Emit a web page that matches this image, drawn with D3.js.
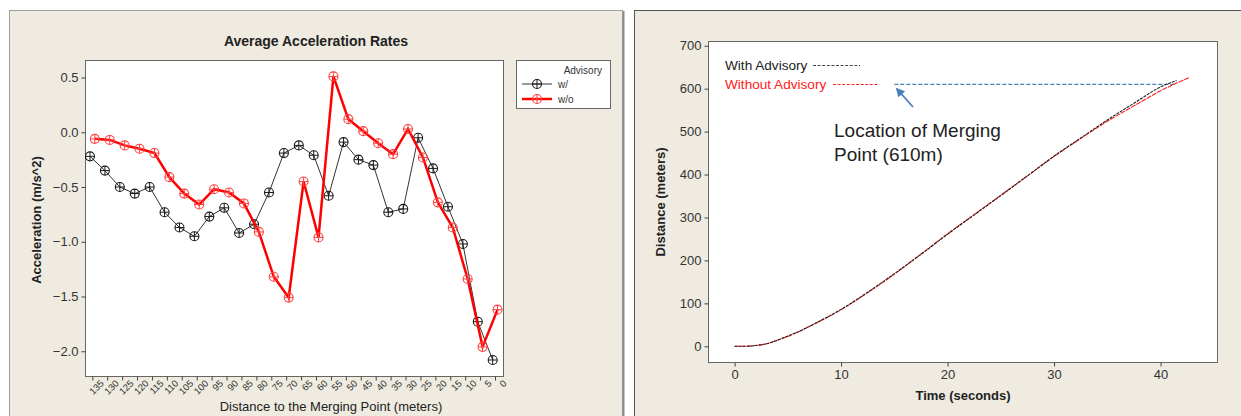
<!DOCTYPE html>
<html>
<head>
<meta charset="utf-8">
<script src="https://cdn.jsdelivr.net/npm/d3@7"></script>
<style>
  body { margin: 0; background: #fff; }
  svg { display: block; font-family: "Liberation Sans", Arial, sans-serif; }
</style>
</head>
<body>
<svg id="chart" width="1241" height="416"></svg>
<script>
// ---- data: left chart (acceleration by distance to merging point)
const distances = [135, 130, 125, 120, 115, 110, 105, 100, 95, 90, 85, 80, 75, 70,
                   65, 60, 55, 50, 45, 40, 35, 30, 25, 20, 15, 10, 5, 0];
const accelWith = [-0.22, -0.35, -0.50, -0.56, -0.50, -0.73, -0.87, -0.95, -0.77, -0.69,
                   -0.92, -0.84, -0.55, -0.19, -0.12, -0.21, -0.58, -0.09, -0.25, -0.30,
                   -0.73, -0.70, -0.05, -0.33, -0.68, -1.02, -1.73, -2.08];
const accelWithout = [-0.06, -0.07, -0.12, -0.15, -0.19, -0.41, -0.56, -0.66, -0.52, -0.55,
                      -0.65, -0.91, -1.32, -1.51, -0.45, -0.96, 0.51, 0.12, 0.01, -0.10,
                      -0.20, 0.03, -0.23, -0.64, -0.87, -1.34, -1.96, -1.62];
const accelTicks = [0.5, 0.0, -0.5, -1.0, -1.5, -2.0];

// ---- data: right chart (distance over time)
const timeWith = [0, 1, 2, 3, 4, 5, 6, 7, 8, 9, 10, 12.5, 15, 17.5, 20, 22.5, 25, 27.5, 30, 32.5, 35, 37.5, 40, 41.5];
const distWith = [0, 0, 2, 6, 14, 24, 34, 46, 59, 72, 86, 126, 169, 214, 261, 306, 351, 397, 443, 485, 527, 566, 604, 619];
const timeWithout = [0, 1, 2, 3, 4, 5, 6, 7, 8, 9, 10, 12.5, 15, 17.5, 20, 22.5, 25, 27.5, 30, 32.5, 35, 37.5, 40, 42.7];
const distWithout = [0, 0, 2, 6, 14, 23, 34, 46, 58, 71, 85, 125, 168, 215, 262, 307, 352, 397, 442, 484, 524, 560, 595, 626];
const timeTicks = [0, 10, 20, 30, 40];
const distTicks = [0, 100, 200, 300, 400, 500, 600, 700];
const mergePoint = 610;

const svg = d3.select("#chart");

// panels
svg.append("rect").attr("x", 9.5).attr("y", 10.5).attr("width", 613).attr("height", 420)
  .attr("fill", "#efebe1").attr("stroke", "#a0a0a0");
svg.append("line").attr("x1", 623.5).attr("x2", 623.5).attr("y1", 11).attr("y2", 416)
  .attr("stroke", "#8c8c8c").attr("stroke-width", 2);
svg.append("rect").attr("x", 634.5).attr("y", 10.5).attr("width", 620).attr("height", 420)
  .attr("fill", "#efebe1").attr("stroke", "#555");

/************ left chart ************/
const L = { left: 85, right: 503, top: 60, bottom: 376 };

const xL = d3.scalePoint().domain(distances).range([92.3, 495]);
const yL = d3.scaleLinear().domain([-2.226, 0.66]).range([L.bottom, L.top]);

svg.append("rect").attr("x", L.left + 0.5).attr("y", L.top + 0.5)
  .attr("width", L.right - L.left).attr("height", L.bottom - L.top)
  .attr("fill", "#fff").attr("stroke", "#666");

svg.append("g")
  .attr("transform", `translate(0, ${L.bottom + 0.5})`)
  .call(d3.axisBottom(xL).tickSize(4).tickSizeOuter(0))
  .call(g => g.select(".domain").remove())
  .call(g => g.selectAll("line").attr("stroke", "#444"))
  .call(g => g.selectAll("text")
    .attr("font-size", 9.5).attr("fill", "#333")
    .attr("text-anchor", "end")
    .attr("dx", "0.3em").attr("dy", "0.7em")
    .attr("transform", "rotate(-45)"));

svg.append("g")
  .attr("transform", `translate(${L.left + 0.5}, 0)`)
  .call(d3.axisLeft(yL).tickValues(accelTicks).tickFormat(d3.format(".1f")).tickSize(4).tickSizeOuter(0))
  .call(g => g.select(".domain").remove())
  .call(g => g.selectAll("line").attr("stroke", "#444"))
  .call(g => g.selectAll("text").attr("font-size", 13).attr("fill", "#333"));

svg.append("text").attr("x", 316).attr("y", 46).attr("text-anchor", "middle")
  .attr("font-size", 14).attr("font-weight", "bold").attr("fill", "#222")
  .text("Average Acceleration Rates");
svg.append("text").attr("transform", "translate(41, 220) rotate(-90)")
  .attr("text-anchor", "middle").attr("font-size", 13).attr("font-weight", "bold").attr("fill", "#222")
  .text("Acceleration (m/s^2)");
svg.append("text").attr("x", 331).attr("y", 411).attr("text-anchor", "middle")
  .attr("font-size", 13).attr("fill", "#222")
  .text("Distance to the Merging Point (meters)");

function marker(g, cx, cy, color) {
  g.append("circle").attr("cx", cx).attr("cy", cy).attr("r", 4.5)
    .attr("fill", "none").attr("stroke", color).attr("stroke-width", 1.1);
  g.append("path").attr("d", `M${cx - 4.5},${cy}H${cx + 4.5}M${cx},${cy - 4.5}V${cy + 4.5}`)
    .attr("stroke", color).attr("stroke-width", 1);
}

const seriesL = [
  { values: accelWith, dx: -2.3, line: "#333", width: 1, mark: "#1a1a1a" },
  { values: accelWithout, dx: 2.5, line: "#ff0000", width: 2.5, mark: "#ff4040" }
];
seriesL.forEach(s => {
  const pts = distances.map((d, i) => [xL(d) + s.dx, yL(s.values[i])]);
  svg.append("path").attr("d", d3.line()(pts))
    .attr("fill", "none").attr("stroke", s.line).attr("stroke-width", s.width);
  const g = svg.append("g");
  pts.forEach(p => marker(g, p[0], p[1], s.mark));
});

// legend
svg.append("rect").attr("x", 516.5).attr("y", 60.5).attr("width", 94).attr("height", 48)
  .attr("fill", "#fff").attr("stroke", "#666");
svg.append("text").attr("x", 602).attr("y", 74).attr("text-anchor", "end")
  .attr("font-size", 10).attr("fill", "#333").text("Advisory");
seriesL.forEach((s, i) => {
  const y = 84 + i * 15;
  svg.append("line").attr("x1", 522).attr("x2", 552).attr("y1", y).attr("y2", y)
    .attr("stroke", s.line).attr("stroke-width", s.width);
  marker(svg.append("g"), 537, y, s.mark);
  svg.append("text").attr("x", 558).attr("y", y + 4).attr("font-size", 10).attr("fill", "#333")
    .text(i === 0 ? "w/" : "w/o");
});

/************ right chart ************/
const R = { left: 708, right: 1217, top: 41, bottom: 362 };

const xR = d3.scaleLinear().domain([-2.5, 45.3]).range([R.left, R.right]);
const yR = d3.scaleLinear().domain([-36.6, 711]).range([R.bottom, R.top]);

svg.append("rect").attr("x", R.left + 0.5).attr("y", R.top + 0.5)
  .attr("width", R.right - R.left).attr("height", R.bottom - R.top)
  .attr("fill", "#fff").attr("stroke", "#666");

svg.append("g")
  .attr("transform", `translate(0, ${R.bottom + 0.5})`)
  .call(d3.axisBottom(xR).tickValues(timeTicks).tickSize(4).tickSizeOuter(0))
  .call(g => g.select(".domain").remove())
  .call(g => g.selectAll("line").attr("stroke", "#444"))
  .call(g => g.selectAll("text").attr("font-size", 13).attr("fill", "#333"));

svg.append("g")
  .attr("transform", `translate(${R.left + 0.5}, 0)`)
  .call(d3.axisLeft(yR).tickValues(distTicks).tickSize(4).tickSizeOuter(0))
  .call(g => g.select(".domain").remove())
  .call(g => g.selectAll("line").attr("stroke", "#444"))
  .call(g => g.selectAll("text").attr("font-size", 13).attr("fill", "#333"));

svg.append("text").attr("transform", "translate(665, 202) rotate(-90)")
  .attr("text-anchor", "middle").attr("font-size", 13).attr("font-weight", "bold").attr("fill", "#222")
  .text("Distance (meters)");
svg.append("text").attr("x", 963).attr("y", 400).attr("text-anchor", "middle")
  .attr("font-size", 13).attr("font-weight", "bold").attr("fill", "#222")
  .text("Time (seconds)");

// merging point reference line
svg.append("line")
  .attr("x1", xR(15)).attr("x2", xR(41.4))
  .attr("y1", yR(mergePoint)).attr("y2", yR(mergePoint))
  .attr("stroke", "#4a7ebb").attr("stroke-width", 1.3).attr("stroke-dasharray", "4,2");

const curve = d3.line().x(d => xR(d[0])).y(d => yR(d[1])).curve(d3.curveMonotoneX);
svg.append("path").attr("d", curve(timeWithout.map((t, i) => [t, distWithout[i]])))
  .attr("fill", "none").attr("stroke", "#ff2020").attr("stroke-width", 1.1).attr("stroke-dasharray", "5,1");
svg.append("path").attr("d", curve(timeWith.map((t, i) => [t, distWith[i]])))
  .attr("fill", "none").attr("stroke", "#222").attr("stroke-width", 1.1).attr("stroke-dasharray", "3,1");

// in-plot legend
svg.append("text").attr("x", 725).attr("y", 70).attr("font-size", 13.6).attr("fill", "#222").text("With Advisory");
svg.append("line").attr("x1", 813).attr("x2", 860).attr("y1", 65.5).attr("y2", 65.5)
  .attr("stroke", "#444").attr("stroke-dasharray", "3,1.6");
svg.append("text").attr("x", 725).attr("y", 89).attr("font-size", 13.6).attr("fill", "#ff2020").text("Without Advisory");
svg.append("line").attr("x1", 833).attr("x2", 879).attr("y1", 84.5).attr("y2", 84.5)
  .attr("stroke", "#ff2020").attr("stroke-dasharray", "3,1.6");

// annotation arrow
svg.append("defs").append("marker").attr("id", "arrow")
  .attr("viewBox", "0 0 10 10").attr("refX", 8).attr("refY", 5)
  .attr("markerWidth", 5).attr("markerHeight", 5).attr("orient", "auto")
  .append("path").attr("d", "M0,0L10,5L0,10z").attr("fill", "#4a7ebb");
svg.append("line").attr("x1", 913).attr("y1", 107).attr("x2", 897).attr("y2", 89)
  .attr("stroke", "#4a7ebb").attr("stroke-width", 1.8).attr("marker-end", "url(#arrow)");

svg.append("text").attr("x", 834).attr("y", 137).attr("font-size", 19).attr("fill", "#222")
  .text("Location of Merging");
svg.append("text").attr("x", 834).attr("y", 161).attr("font-size", 19).attr("fill", "#222")
  .text("Point (610m)");
</script>
</body>
</html>
